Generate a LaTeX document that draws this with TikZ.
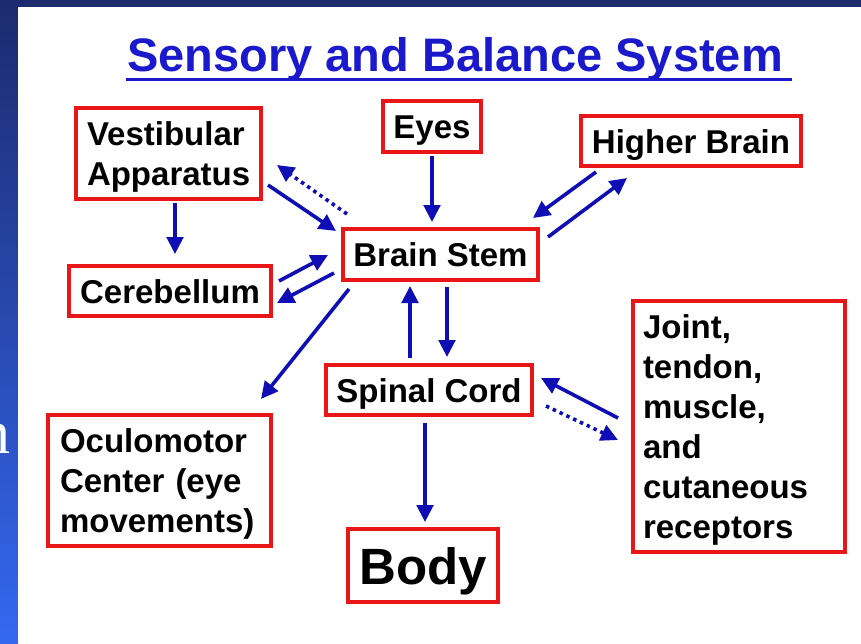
\documentclass[tikz,border=0pt]{standalone}
\usepackage{fontspec}
\setmainfont{Liberation Sans}
\newfontfamily\serifn{Liberation Serif}
\usetikzlibrary{arrows.meta,calc}
\definecolor{boxred}{RGB}{232,22,22}
\definecolor{arrblue}{RGB}{14,14,180}
\definecolor{titleblue}{RGB}{26,26,204}
\definecolor{navy}{RGB}{28,42,110}
\definecolor{stripbot}{RGB}{52,104,240}
\begin{document}
\begin{tikzpicture}[x=1pt,y=-1pt,
  box/.style={draw=boxred, line width=3.5pt, fill=white, inner sep=0pt, outer sep=0pt,
    font=\fontsize{33}{40}\selectfont\bfseries, text=black},
  one/.style={box, text height=24pt, text depth=0pt},
  multi/.style={box, align=left},
  arr/.style={draw=arrblue, line width=3.6pt, -{Triangle[length=17pt,width=16.5pt]}},
  dotarr/.style={arr, dash pattern=on 3.5pt off 4pt}]
\useasboundingbox (0,0) rectangle (861,643);
% background
\fill[navy] (0,0) rectangle (861,643);
\shade[top color=navy, bottom color=stripbot] (0,0) rectangle (18,643);
\fill[white] (18,7) rectangle (861,643);
\node[anchor=base east, inner sep=0pt, text=white, font=\serifn\fontsize{62}{62}\selectfont] (cut) at (11,453) {n};
% title
\node[anchor=base west, inner sep=0pt, text=titleblue, font=\fontsize{47}{56}\selectfont\bfseries] (title) at (127,71) {Sensory and Balance System};
\draw[titleblue, line width=3pt] ($(title.base west)+(-1,8.5)$) -- ($(title.base east)+(9,8.5)$);
% boxes
\node[multi, text width=163pt, inner xsep=11pt, minimum width=185pt, minimum height=91pt, text depth=40pt] (vest) at (168.5,153.5) {Vestibular\\Apparatus};
\node[one, minimum width=202pt, minimum height=50pt] (cereb) at (170,291) {Cerebellum};
\node[one, minimum width=195pt, minimum height=51pt] (bs) at (440.5,254.5) {Brain Stem};
\node[one, minimum width=98pt, minimum height=51pt] (eyes) at (432,126.5) {Eyes};
\node[one, minimum width=220pt, minimum height=50pt] (hb) at (691,141) {Higher Brain};
\node[one, minimum width=206pt, minimum height=50pt] (sc) at (429,390) {Spinal Cord};
\node[multi, text width=199pt, inner xsep=12pt, minimum width=223pt, minimum height=131pt, text depth=80pt] (ocu) at (159.5,480.5) {Oculomotor\\Center (eye\\movements)};
\node[one, font=\fontsize{51}{60}\selectfont\bfseries, text height=37pt, minimum width=150pt, minimum height=73pt] (body) at (423,565.5) {Body};
\node[multi, text width=192pt, inner xsep=10pt, minimum width=212pt, minimum height=251pt, text depth=200pt] (joint) at (739,426.5) {Joint,\\tendon,\\muscle,\\and\\cutaneous\\receptors};
% connectors
\draw[arr] ($(vest.south)+(6.5,4)$) -- ($(cereb.north)+(5,-12)$);
\draw[arr] ($(vest.south east)+(7,-14)$) -- ($(bs.north west)+(-7,2)$);
\draw[dotarr] ($(bs.north west)+(4,-15)$) -- ($(vest.east)+(16,11.5)$);
\draw[arr] ($(eyes.south)+(0,4)$) -- ($(bs.north)+(-8.5,-7)$);
\draw[arr] ($(hb.south west)+(15,6)$) -- ($(bs.north east)+(-5,-11)$);
\draw[arr] ($(bs.north east)+(10,8)$) -- ($(hb.south west)+(46,12)$);
\draw[arr] ($(cereb.east)+(8,-10)$) -- ($(bs.west)+(-15,0.5)$);
\draw[arr] ($(bs.west)+(-9,18.5)$) -- ($(cereb.east)+(6,12)$);
\draw[arr] ($(bs.south west)+(6,9)$) -- ($(ocu.north east)+(-10,-16)$);
\draw[arr] ($(sc.north)+(-19,-7)$) -- ($(bs.south)+(-30.5,6)$);
\draw[arr] ($(bs.south)+(6.5,7)$) -- ($(sc.north)+(18,-8)$);
\draw[arr] ($(sc.south)+(-4,8)$) -- ($(body.north)+(2,-7)$);
\draw[arr] ($(joint.west)+(-15,-8.5)$) -- ($(sc.east)+(9,-12)$);
\draw[dotarr] ($(sc.east)+(14,16)$) -- ($(joint.west)+(-15,13.5)$);
\end{tikzpicture}
\end{document}
